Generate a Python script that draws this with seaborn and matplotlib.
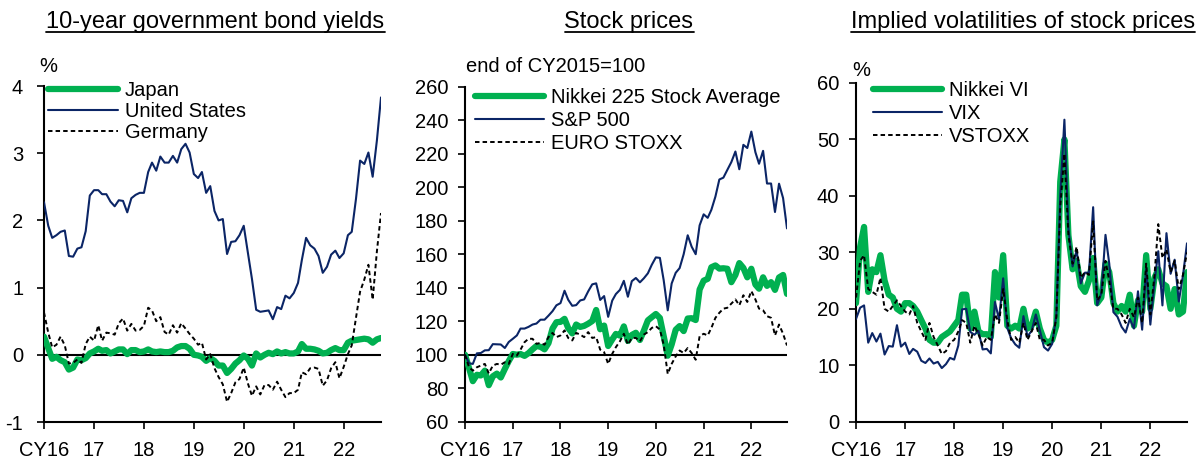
import numpy as np
import pandas as pd
import matplotlib.pyplot as plt
from matplotlib.lines import Line2D
import seaborn as sns

# month-end data, Dec 2015 .. Sep 2022
dates = pd.date_range("2015-12-31", "2022-09-30", freq="ME")
tick_dates = dates[::12][:7]
tick_labels = ["CY16", "17", "18", "19", "20", "21", "22"]

# 10-year government bond yields (%)
jp_10y = [0.27, 0.10, -0.06, -0.03, -0.08, -0.11, -0.22, -0.19, -0.07, -0.08, -0.05, 0.02,
          0.05, 0.09, 0.06, 0.07, 0.02, 0.05, 0.08, 0.08, 0.01, 0.07, 0.07, 0.04,
          0.05, 0.08, 0.05, 0.04, 0.05, 0.04, 0.04, 0.06, 0.11, 0.13, 0.13, 0.09,
          0.00, -0.01, -0.03, -0.09, -0.05, -0.09, -0.16, -0.16, -0.27, -0.21, -0.13, -0.08,
          -0.01, -0.06, -0.16, 0.02, -0.04, 0.00, 0.03, 0.01, 0.05, 0.02, 0.04, 0.02,
          0.02, 0.05, 0.16, 0.09, 0.09, 0.08, 0.06, 0.02, 0.03, 0.07, 0.10, 0.07,
          0.07, 0.18, 0.21, 0.22, 0.23, 0.24, 0.23, 0.18, 0.23, 0.25]
us_10y = [2.27, 1.92, 1.74, 1.78, 1.83, 1.85, 1.47, 1.46, 1.58, 1.60, 1.84, 2.37,
          2.45, 2.45, 2.39, 2.39, 2.28, 2.21, 2.30, 2.29, 2.12, 2.33, 2.38, 2.41,
          2.41, 2.72, 2.86, 2.74, 2.95, 2.86, 2.86, 2.96, 2.86, 3.06, 3.14, 3.01,
          2.69, 2.63, 2.72, 2.41, 2.51, 2.14, 2.00, 2.02, 1.50, 1.68, 1.69, 1.78,
          1.92, 1.51, 1.13, 0.67, 0.64, 0.65, 0.66, 0.53, 0.71, 0.68, 0.88, 0.84,
          0.92, 1.07, 1.41, 1.74, 1.63, 1.58, 1.47, 1.22, 1.31, 1.49, 1.55, 1.44,
          1.51, 1.78, 1.83, 2.32, 2.89, 2.84, 3.01, 2.65, 3.19, 3.83]
de_10y = [0.63, 0.33, 0.11, 0.15, 0.27, 0.14, -0.13, -0.12, -0.07, -0.12, 0.16, 0.27,
          0.21, 0.44, 0.21, 0.33, 0.32, 0.30, 0.47, 0.54, 0.36, 0.46, 0.36, 0.37,
          0.43, 0.70, 0.66, 0.50, 0.56, 0.34, 0.30, 0.44, 0.33, 0.47, 0.39, 0.31,
          0.24, 0.15, 0.18, -0.07, 0.01, -0.20, -0.33, -0.44, -0.70, -0.57, -0.41, -0.36,
          -0.19, -0.43, -0.61, -0.47, -0.59, -0.45, -0.45, -0.52, -0.40, -0.52, -0.63, -0.57,
          -0.57, -0.52, -0.26, -0.29, -0.20, -0.19, -0.21, -0.46, -0.38, -0.20, -0.11, -0.35,
          -0.18, 0.01, 0.14, 0.55, 0.94, 1.12, 1.34, 0.82, 1.54, 2.11]

# stock prices, end of CY2015 = 100
nikkei = [100, 92.0, 84.2, 88.0, 87.6, 90.5, 81.8, 87.1, 88.7, 86.4, 91.5, 96.2,
          100.4, 100.0, 100.4, 99.3, 100.9, 103.2, 105.2, 104.7, 103.2, 106.9, 115.6, 119.4,
          119.6, 121.4, 115.9, 112.7, 118.0, 116.6, 117.2, 118.5, 120.1, 126.7, 115.2, 117.4,
          105.2, 109.1, 112.4, 111.4, 116.9, 108.2, 111.8, 113.1, 108.8, 114.3, 120.5, 122.4,
          124.3, 121.9, 111.1, 99.4, 106.1, 114.9, 117.1, 114.1, 121.6, 121.8, 120.7, 138.9,
          144.2, 145.3, 152.2, 153.3, 151.4, 151.6, 151.3, 143.3, 147.6, 154.7, 151.8, 146.2,
          151.3, 141.9, 139.4, 146.2, 141.1, 143.3, 138.7, 146.1, 147.6, 136.3]
sp500 = [100, 94.9, 94.5, 100.8, 101.0, 102.6, 102.7, 106.3, 106.2, 106.1, 104.0, 107.6,
         109.5, 111.5, 115.6, 115.6, 116.6, 118.0, 118.6, 120.9, 120.9, 123.3, 126.0, 129.5,
         130.8, 138.2, 132.8, 129.2, 129.6, 132.4, 133.0, 137.8, 142.0, 142.6, 132.7, 135.0,
         122.6, 132.3, 136.2, 138.7, 144.1, 134.6, 143.9, 145.8, 143.2, 145.6, 148.6, 153.7,
         158.1, 157.8, 144.5, 126.5, 142.5, 148.9, 151.7, 160.0, 171.3, 164.5, 160.0, 177.2,
         183.8, 181.7, 186.5, 194.4, 204.6, 205.7, 210.3, 215.0, 221.3, 210.7, 225.3, 223.4,
         233.2, 220.9, 214.0, 221.7, 202.2, 202.2, 185.2, 202.1, 193.5, 175.4]
eurostoxx = [100, 92.5, 90.5, 92.5, 93.5, 94.5, 88.8, 93.5, 94.5, 94.0, 95.5, 94.5,
             100.5, 99.5, 103.0, 107.5, 109.5, 109.5, 106.5, 107.0, 106.0, 110.5, 113.0, 110.5,
             111.5, 114.5, 110.0, 108.5, 113.0, 112.0, 110.5, 113.5, 110.0, 110.5, 103.0, 101.5,
             94.5, 100.5, 104.5, 108.0, 112.5, 106.0, 110.0, 110.0, 108.0, 112.0, 113.5, 116.0,
             117.0, 115.0, 106.0, 88.5, 94.5, 99.0, 102.5, 101.0, 104.0, 101.0, 97.0, 111.0,
             112.5, 111.5, 116.0, 122.0, 125.0, 127.5, 128.0, 130.5, 133.0, 129.5, 135.5, 131.5,
             138.0, 133.0, 127.5, 126.5, 123.0, 122.0, 111.5, 118.0, 112.5, 105.5]

# implied volatilities (%)
nikkei_vi = [21.0, 31.0, 34.5, 23.0, 27.0, 26.5, 29.5, 25.0, 22.5, 22.0, 20.0, 19.5,
             21.0, 21.0, 20.5, 19.5, 18.0, 16.5, 14.5, 14.0, 14.0, 15.0, 15.5, 16.0,
             17.0, 18.0, 22.5, 22.5, 16.5, 19.5, 16.0, 15.5, 15.5, 15.0, 26.5, 22.0,
             29.5, 17.0, 16.5, 17.0, 16.5, 20.0, 16.5, 17.0, 19.5, 16.5, 14.5, 14.0,
             14.5, 17.0, 42.5, 50.0, 33.0, 27.0, 28.5, 24.0, 23.0, 25.0, 29.0, 21.0,
             22.0, 28.0, 26.5, 21.0, 19.5, 20.5, 19.5, 22.5, 17.0, 21.5, 19.5, 29.5,
             20.0, 25.5, 27.0, 24.5, 24.0, 20.0, 23.5, 19.0, 19.5, 26.5]
vix = [18.2, 20.2, 20.6, 14.0, 15.7, 14.2, 15.6, 11.9, 13.4, 13.3, 17.1, 13.3,
       14.0, 12.0, 12.9, 12.4, 10.8, 10.4, 11.2, 10.3, 10.6, 9.5, 10.2, 11.3,
       11.0, 13.5, 19.9, 20.0, 15.9, 15.4, 16.1, 12.8, 12.9, 12.1, 21.2, 18.1,
       25.4, 16.6, 14.8, 13.7, 13.1, 18.7, 15.1, 16.1, 19.0, 16.2, 13.2, 12.6,
       13.8, 18.8, 40.1, 53.5, 34.2, 27.5, 30.4, 24.5, 26.4, 26.4, 38.0, 20.6,
       22.8, 33.1, 28.0, 19.4, 18.6, 16.8, 15.8, 18.2, 16.5, 23.1, 16.3, 27.2,
       17.2, 24.8, 30.2, 20.6, 33.4, 26.2, 28.7, 21.3, 25.9, 31.6]
vstoxx = [22.0, 28.5, 29.5, 23.5, 23.0, 22.5, 25.5, 20.0, 19.5, 20.5, 21.5, 20.5,
          19.5, 19.0, 20.5, 17.5, 16.0, 14.5, 17.5, 15.0, 13.5, 12.0, 12.5, 14.0,
          14.5, 16.0, 18.0, 17.5, 14.0, 17.0, 15.5, 13.5, 15.0, 14.5, 19.0, 17.5,
          23.5, 18.0, 14.5, 15.0, 14.0, 17.5, 14.5, 16.0, 17.5, 14.5, 14.5, 13.5,
          14.0, 18.5, 38.0, 47.5, 33.0, 28.0, 31.0, 25.5, 26.5, 26.0, 35.5, 21.5,
          22.5, 28.5, 25.0, 20.0, 20.0, 19.0, 17.5, 20.0, 18.5, 22.0, 17.5, 28.0,
          19.0, 26.0, 35.0, 29.0, 30.5, 26.5, 28.5, 23.5, 26.0, 30.0]

GREEN = "#00B050"
NAVY = "#0B2566"
W, H = 1204, 465
FS = 14.5

sns.set_theme(style="ticks")
plt.rcParams["font.family"] = ["Liberation Sans", "DejaVu Sans"]
plt.rcParams["axes.linewidth"] = 1.5
plt.rcParams["axes.edgecolor"] = "black"
plt.rcParams["text.color"] = "black"
plt.rcParams["axes.unicode_minus"] = False

fig = plt.figure(figsize=(W / 100, H / 100), dpi=100)


def add_ax(left, right, top, bottom):
    return fig.add_axes([left / W, 1 - bottom / H, (right - left) / W, (bottom - top) / H])


def draw_panel(ax, series, ylim, ystep, ref, ypad, leg_anchor, spacing):
    for name, vals, color, lw, ls in series:
        sns.lineplot(x=dates, y=vals, ax=ax, color=color, lw=lw, linestyle=ls,
                     label=name, zorder=3)
    if ref is not None:
        ax.axhline(ref, color="black", lw=1.5, zorder=2)
    ax.set_xlim(dates[0], dates[-1])
    ax.set_ylim(*ylim)
    ax.set_yticks(np.arange(ylim[0], ylim[1] + ystep / 2, ystep))
    ax.set_xticks(tick_dates)
    ax.set_xticklabels(tick_labels)
    ax.set_xlabel("")
    ax.set_ylabel("")
    ax.tick_params(axis="both", direction="out", length=5, width=1.2, labelsize=FS,
                   colors="black")
    ax.tick_params(axis="x", pad=9)
    ax.tick_params(axis="y", pad=ypad)
    ax.set_facecolor("white")
    sns.despine(ax=ax)
    ax.legend(loc="upper left", bbox_to_anchor=leg_anchor, frameon=False, fontsize=FS,
              handlelength=3.45, handletextpad=0.35, labelspacing=spacing,
              borderaxespad=0, borderpad=0)


dash = (0, (2.3, 1.6))

ax1 = add_ax(44, 381, 86, 422)
draw_panel(ax1, [("Japan", jp_10y, GREEN, 4.5, "-"),
                 ("United States", us_10y, NAVY, 1.5, "-"),
                 ("Germany", de_10y, "black", 1.4, dash)],
           (-1, 4), 1, 0, 10, (0.012, 1.016), 0.12)

ax2 = add_ax(465, 787, 86.7, 421.7)
draw_panel(ax2, [("Nikkei 225 Stock Average", nikkei, GREEN, 4.5, "-"),
                 ("S&P 500", sp500, NAVY, 1.5, "-"),
                 ("EURO STOXX", eurostoxx, "black", 1.4, dash)],
           (60, 260), 20, 100, 7, (0.03, 0.995), 0.18)

ax3 = add_ax(856, 1187, 83, 421.7)
draw_panel(ax3, [("Nikkei VI", nikkei_vi, GREEN, 4.5, "-"),
                 ("VIX", vix, NAVY, 1.5, "-"),
                 ("VSTOXX", vstoxx, "black", 1.4, dash)],
           (0, 60), 10, None, 7, (0.05, 1.007), 0.2)

fig.text(48 / W, 1 - 66 / H, "%", ha="center", va="center", fontsize=FS)
fig.text(861 / W, 1 - 70 / H, "%", ha="center", va="center", fontsize=FS)
fig.text(466 / W, 1 - 67 / H, "end of CY2015=100", ha="left", va="center", fontsize=FS)

titles = [("10-year government bond yields", 215.5),
          ("Stock prices", 629),
          ("Implied volatilities of stock prices", 1023)]
title_artists = []
for text, cx in titles:
    title_artists.append(fig.text(cx / W, 1 - 28 / H, text, ha="center", va="baseline",
                                  fontsize=17))

fig.canvas.draw()
for t in title_artists:
    bb = t.get_window_extent()
    y = 1 - 32 / H
    fig.add_artist(Line2D([bb.x0 / W, bb.x1 / W], [y, y], color="black", lw=1.3,
                          transform=fig.transFigure))

fig.savefig("out.png", dpi=100, facecolor="white")
